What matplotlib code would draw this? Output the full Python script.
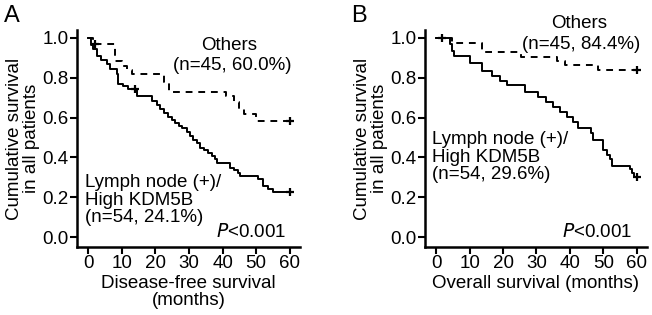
import matplotlib
matplotlib.use('Agg')
import matplotlib.pyplot as plt

plt.rcParams['font.family'] = ['Liberation Sans', 'DejaVu Sans']

# Panel A: disease-free survival
a_others_t = [0, 1.5, 8, 10, 11.5, 13, 22.5, 24, 41, 43.5, 45, 46.5, 50]
a_others_s = [1.0, 0.967, 0.885, 0.86, 0.837, 0.818, 0.777, 0.728, 0.706, 0.678, 0.644, 0.62, 0.584]
a_others_cens_t = [2.1, 60]
a_others_cens_s = [0.967, 0.584]

a_high_t = [0, 1.0, 1.6, 2.6, 4.0, 5.5, 6.5, 8.5, 9.0, 10.5, 12.0, 14.5, 19.0, 20.4, 21.4, 22.6,
            23.9, 25.0, 25.8, 27.0, 27.8, 29.3, 30.3, 31.3, 32.3, 33.3, 34.5, 35.7, 37.0, 37.7,
            38.2, 42.2, 43.4, 44.6, 45.1, 50.6, 52.1, 53.6, 55.0]
a_high_s = [1.0, 0.963, 0.944, 0.907, 0.889, 0.870, 0.843, 0.820, 0.769, 0.759, 0.741, 0.710, 0.685,
            0.665, 0.645, 0.625, 0.604, 0.588, 0.571, 0.558, 0.546, 0.525, 0.505, 0.488, 0.472, 0.447,
            0.435, 0.422, 0.406, 0.390, 0.373, 0.348, 0.335, 0.323, 0.307, 0.290, 0.257, 0.241, 0.224]
a_high_cens_t = [14, 60]
a_high_cens_s = [0.741, 0.224]

# Panel B: overall survival
b_others_t = [0, 4.7, 13.6, 25.5, 36, 38.5, 48.4]
b_others_s = [1.0, 0.975, 0.929, 0.906, 0.885, 0.863, 0.838]
b_others_cens_t = [1.7, 60]
b_others_cens_s = [1.0, 0.838]

b_high_t = [0, 4.2, 4.6, 5.2, 10.2, 13.6, 16.6, 19.1, 21.1, 26.6, 30.5, 33.0, 35.0, 37.0, 39.0,
            41.0, 42.5, 46.4, 46.9, 50.0, 51.0, 52.0, 52.5, 58.0, 58.6, 59.3]
b_high_s = [1.0, 0.967, 0.934, 0.909, 0.876, 0.835, 0.810, 0.786, 0.761, 0.728, 0.703, 0.678, 0.653,
            0.629, 0.604, 0.579, 0.546, 0.521, 0.489, 0.439, 0.414, 0.390, 0.356, 0.340, 0.323, 0.300]
b_high_cens_t = [60]
b_high_cens_s = [0.300]

x_ticks = [0, 10, 20, 30, 40, 50, 60]
y_ticks = [0.0, 0.2, 0.4, 0.6, 0.8, 1.0]
fs = 13.5


def km_line(ax, t, s, ct, cs, ls):
    ax.step(t + [60], s + [s[-1]], where='post', color='black', lw=1.4, ls=ls,
            dashes=(3.5, 3) if ls == '--' else (None, None), clip_on=False)
    ax.plot(ct, cs, '+', color='black', ms=6, mew=1.6, clip_on=False)


def style_axes(ax):
    ax.set_xlim(-3.3, 63)
    ax.set_ylim(-0.05, 1.04)
    ax.set_xticks(x_ticks)
    ax.set_yticks(y_ticks)
    ax.set_yticklabels(['%.1f' % v for v in y_ticks])
    ax.spines['top'].set_visible(False)
    ax.spines['right'].set_visible(False)
    ax.spines['left'].set_linewidth(1.8)
    ax.spines['bottom'].set_linewidth(1.8)
    ax.tick_params(direction='out', length=5, width=1.5, labelsize=fs, pad=1)
    ax.set_ylabel('Cumulative survival\nin all patients', fontsize=fs, labelpad=2, linespacing=0.95)


fig = plt.figure(figsize=(6.52, 3.15), dpi=100)
ax1 = fig.add_axes([0.118, 0.216, 0.342, 0.689])
ax2 = fig.add_axes([0.652, 0.216, 0.340, 0.689])

km_line(ax1, a_others_t, a_others_s, a_others_cens_t, a_others_cens_s, '--')
km_line(ax1, a_high_t, a_high_s, a_high_cens_t, a_high_cens_s, '-')
style_axes(ax1)
ax1.set_xlabel('Disease-free survival\n(months)', fontsize=fs, labelpad=2, linespacing=1.0)
ax1.text(42, 0.96, 'Others', fontsize=fs, ha='center', va='center')
ax1.text(42.8, 0.86, '(n=45, 60.0%)', fontsize=fs, ha='center', va='center')
ax1.text(-0.8, 0.315, 'Lymph node (+)/\nHigh KDM5B\n(n=54, 24.1%)', fontsize=fs,
         ha='left', va='top', linespacing=1.02)
ax1.text(59, 0.025, '$P$<0.001', fontsize=fs, ha='right', va='center')

km_line(ax2, b_others_t, b_others_s, b_others_cens_t, b_others_cens_s, '--')
km_line(ax2, b_high_t, b_high_s, b_high_cens_t, b_high_cens_s, '-')
style_axes(ax2)
ax2.set_xlabel('Overall survival (months)', fontsize=fs, labelpad=2)
ax2.text(42.7, 1.07, 'Others', fontsize=fs, ha='center', va='center', clip_on=False)
ax2.text(43.5, 0.965, '(n=45, 84.4%)', fontsize=fs, ha='center', va='center')
ax2.text(-1.2, 0.53, 'Lymph node (+)/\nHigh KDM5B\n(n=54, 29.6%)', fontsize=fs,
         ha='left', va='top', linespacing=1.02)
ax2.text(58.8, 0.025, '$P$<0.001', fontsize=fs, ha='right', va='center')

fig.text(0.006, 0.985, 'A', fontsize=17, va='top')
fig.text(0.538, 0.985, 'B', fontsize=17, va='top')

fig.savefig('out.png', dpi=100)
